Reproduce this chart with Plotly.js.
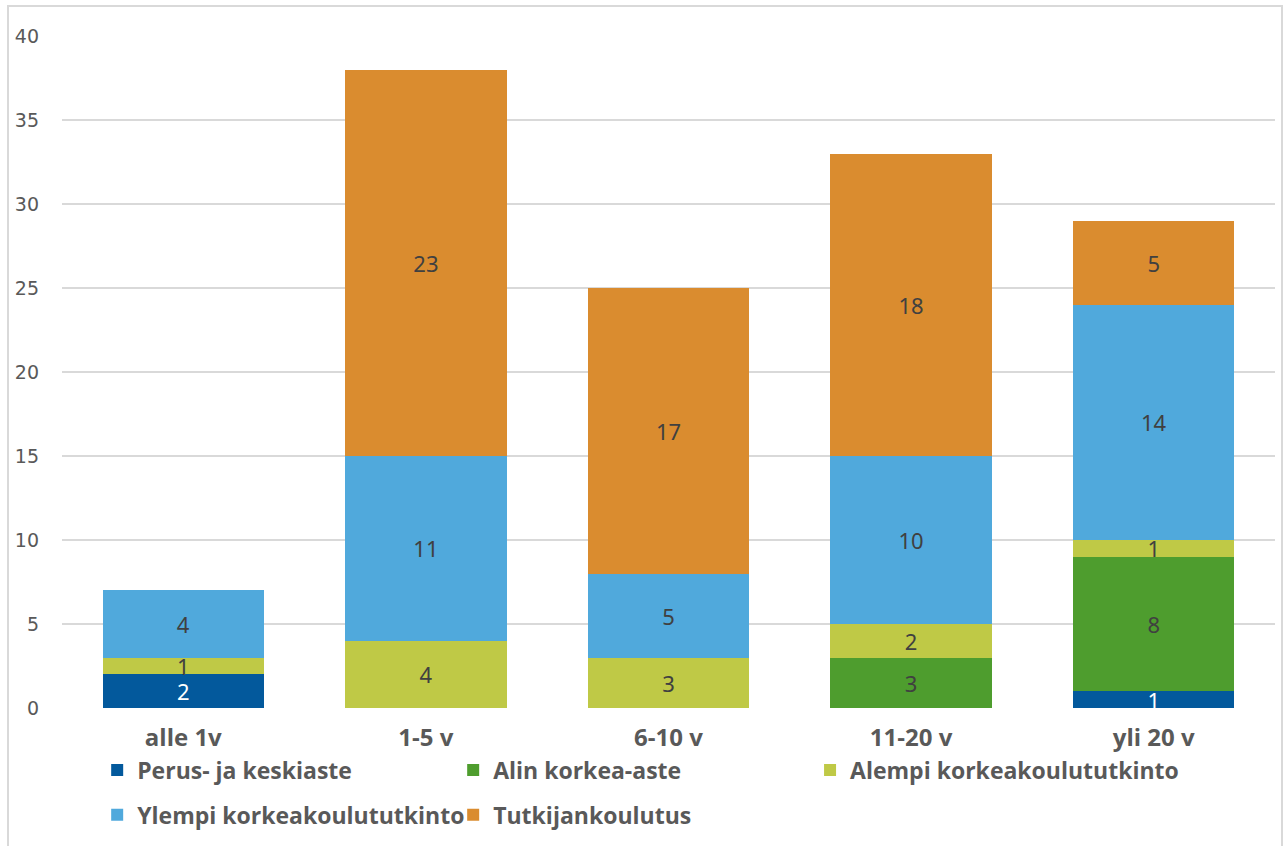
<!DOCTYPE html>
<html><head><meta charset="utf-8">
<script src="https://cdn.plot.ly/plotly-3.0.1.min.js"></script>
<style>
html,body{margin:0;padding:0;background:#fff;overflow:hidden;}
#wrap{position:relative;width:1288px;height:846px;}
#chart{position:absolute;left:0;top:0;width:1288px;height:846px;}
#frame{position:absolute;left:7px;top:5px;width:1272px;height:900px;border:2px solid #d9d9d9;pointer-events:none;}
</style></head>
<body>
<div id="wrap"><div id="chart"></div><div id="frame"></div></div>
<script>
const categories = ["alle 1v", "1-5 v", "6-10 v", "11-20 v", "yli 20 v"];
const seriesNames = ["Perus- ja keskiaste", "Alin korkea-aste", "Alempi korkeakoulututkinto", "Ylempi korkeakoulututkinto", "Tutkijankoulutus"];
const perus = [2, 0, 0, 0, 1];
const alin = [0, 0, 0, 3, 8];
const alempi = [1, 4, 3, 2, 1];
const ylempi = [4, 11, 5, 10, 14];
const tutkijan = [0, 23, 17, 18, 5];
const yTicks = [0, 5, 10, 15, 20, 25, 30, 35, 40];

const colors = ["#03599C", "#4E9D2E", "#BFC946", "#50A9DC", "#DA8C2F"];
const textColors = ["#ffffff", "#404040", "#404040", "#404040", "#404040"];
const values = [perus, alin, alempi, ylempi, tutkijan];
const legends = ["legend", "legend", "legend3", "legend2", "legend2"];

const traces = values.map((vals, i) => ({
  type: "bar",
  name: seriesNames[i],
  x: categories,
  y: vals,
  text: vals.map(v => v ? String(v) : ""),
  textposition: "inside",
  insidetextanchor: "middle",
  constraintext: "none",
  textangle: 0,
  textfont: {family: "Noto Sans, sans-serif", size: 22, color: textColors[i]},
  marker: {color: colors[i], line: {width: 0}},
  hoverinfo: "none",
  legend: legends[i],
  cliponaxis: false
}));

const legendCommon = {
  orientation: "h",
  xanchor: "left",
  yanchor: "middle",
  entrywidth: 311,
  entrywidthmode: "pixels",
  font: {family: "Open Sans, sans-serif", size: 23, color: "#595959", weight: "bold"},
  bgcolor: "rgba(0,0,0,0)",
  borderwidth: 0,
  itemclick: false,
  traceorder: "normal"
};

const layout = {
  width: 1288, height: 846,
  margin: {l: 62, r: 13, t: 36, b: 138, autoexpand: false},
  paper_bgcolor: "#ffffff",
  plot_bgcolor: "#ffffff",
  barmode: "stack",
  bargap: 0.335,
  showlegend: true,
  xaxis: {
    type: "category",
    tickfont: {family: "Open Sans, sans-serif", size: 24, color: "#595959", weight: "bold"},
    showgrid: false, zeroline: false, showline: false,
    ticks: "", ticklabelstandoff: 13
  },
  yaxis: {
    range: [0, 40],
    tickvals: yTicks,
    ticktext: yTicks.map(String),
    tickfont: {family: "DejaVu Sans, sans-serif", size: 19, color: "#595959"},
    showgrid: true, gridcolor: "#d9d9d9", gridwidth: 2,
    zeroline: false, showline: false,
    ticks: "", ticklabelstandoff: 22
  },
  legend: Object.assign({}, legendCommon, {x: 0.029, y: -0.0923}),
  legend3: Object.assign({}, legendCommon, {x: 0.6167, y: -0.0923, entrywidth: 360}),
  legend2: Object.assign({}, legendCommon, {x: 0.029, y: -0.159})
};

Plotly.newPlot("chart", traces, layout, {staticPlot: true, displayModeBar: false});
</script>
</body></html>
